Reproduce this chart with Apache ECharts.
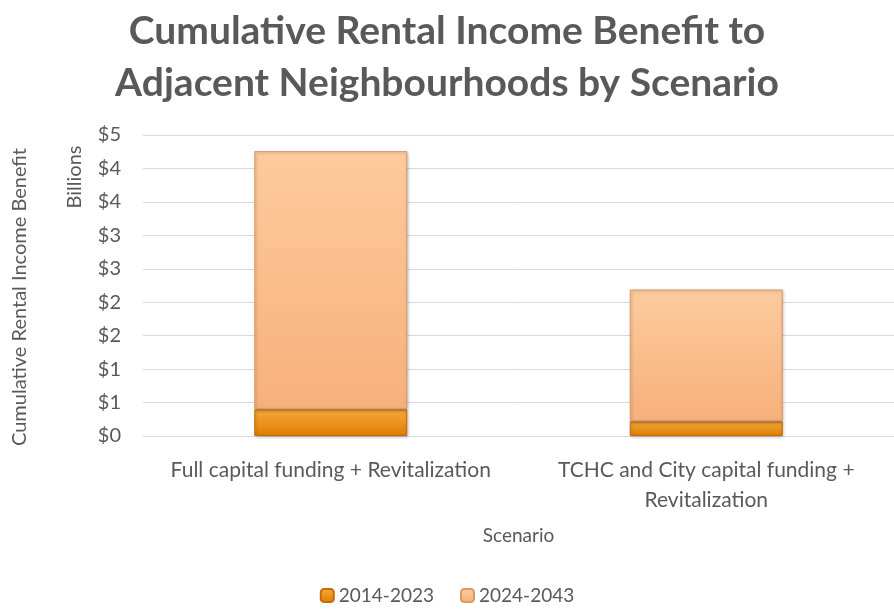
<!DOCTYPE html>
<html>
<head>
<meta charset="utf-8">
<script src="https://cdn.jsdelivr.net/npm/echarts@6/dist/echarts.min.js"></script>
<style>
  html, body { margin: 0; padding: 0; background: #fff; }
  #chart { width: 894px; height: 612px; }
</style>
</head>
<body>
<div id="chart"></div>
<script>
const categories = ['Full capital funding + Revitalization', 'TCHC and City capital funding +\nRevitalization'];
const early = [0.40, 0.22];   // 2014-2023, billions
const late = [3.86, 1.97];    // 2024-2043, billions
const seriesNames = ['2014-2023', '2024-2043'];

const font = 'Lato, "Open Sans", sans-serif';
const grey = '#595959';

function fill(top, bottom) {
  return new echarts.graphic.LinearGradient(0, 0, 0, 1, [
    { offset: 0, color: top },
    { offset: 1, color: bottom }
  ]);
}

const chart = echarts.init(document.getElementById('chart'), null, { renderer: 'canvas' });
chart.setOption({
  animation: false,
  title: {
    text: 'Cumulative Rental Income Benefit to\nAdjacent Neighbourhoods by Scenario',
    left: 'center',
    top: 0,
    textStyle: { fontFamily: font, fontSize: 39, fontWeight: 'bold', color: grey, lineHeight: 52 }
  },
  legend: {
    bottom: 2,
    left: 'center',
    itemWidth: 13,
    itemHeight: 13,
    itemGap: 26,
    textStyle: { fontFamily: font, fontSize: 19, color: grey },
    data: seriesNames
  },
  grid: { left: 143, right: -9, top: 135, bottom: 176 },
  xAxis: {
    type: 'category',
    data: categories,
    name: 'Scenario',
    nameLocation: 'middle',
    nameGap: 90,
    nameTextStyle: { fontFamily: font, fontSize: 19, color: grey },
    axisLine: { lineStyle: { color: '#d9d9d9' } },
    axisTick: { show: false },
    axisLabel: { fontFamily: font, fontSize: 21, color: grey, margin: 19, lineHeight: 30, interval: 0 }
  },
  yAxis: {
    type: 'value',
    min: 0,
    max: 4.5,
    interval: 0.5,
    axisLine: { show: false },
    axisTick: { show: false },
    splitLine: { lineStyle: { color: '#d9d9d9' } },
    axisLabel: {
      fontFamily: font, fontSize: 20, color: grey, margin: 22,
      formatter: v => '$' + Math.round(v + 1e-9)
    }
  },
  graphic: [
    {
      type: 'text',
      x: 20, y: 297,
      rotation: Math.PI / 2,
      style: {
        text: 'Cumulative Rental Income Benefit',
        fontFamily: font, fontSize: 20, fill: grey,
        align: 'center', verticalAlign: 'middle'
      }
    },
    {
      type: 'text',
      x: 75, y: 177,
      rotation: Math.PI / 2,
      style: {
        text: 'Billions',
        fontFamily: font, fontSize: 20, fill: grey,
        align: 'center', verticalAlign: 'middle'
      }
    }
  ],
  series: [
    {
      name: seriesNames[0],
      type: 'bar',
      stack: 'total',
      barWidth: 153,
      data: early,
      itemStyle: {
        color: fill('#f6a93a', '#e07c05'), borderColor: '#c56b06', borderWidth: 1,
        shadowColor: 'rgba(0,0,0,0.25)', shadowBlur: 3, shadowOffsetX: 1, shadowOffsetY: 1
      }
    },
    {
      name: seriesNames[1],
      type: 'bar',
      stack: 'total',
      barWidth: 153,
      data: late,
      itemStyle: {
        color: fill('#fdcb9e', '#f7b07b'), borderColor: '#d99a6a', borderWidth: 1,
        shadowColor: 'rgba(0,0,0,0.25)', shadowBlur: 3, shadowOffsetX: 1, shadowOffsetY: 1
      }
    }
  ]
});
</script>
</body>
</html>
